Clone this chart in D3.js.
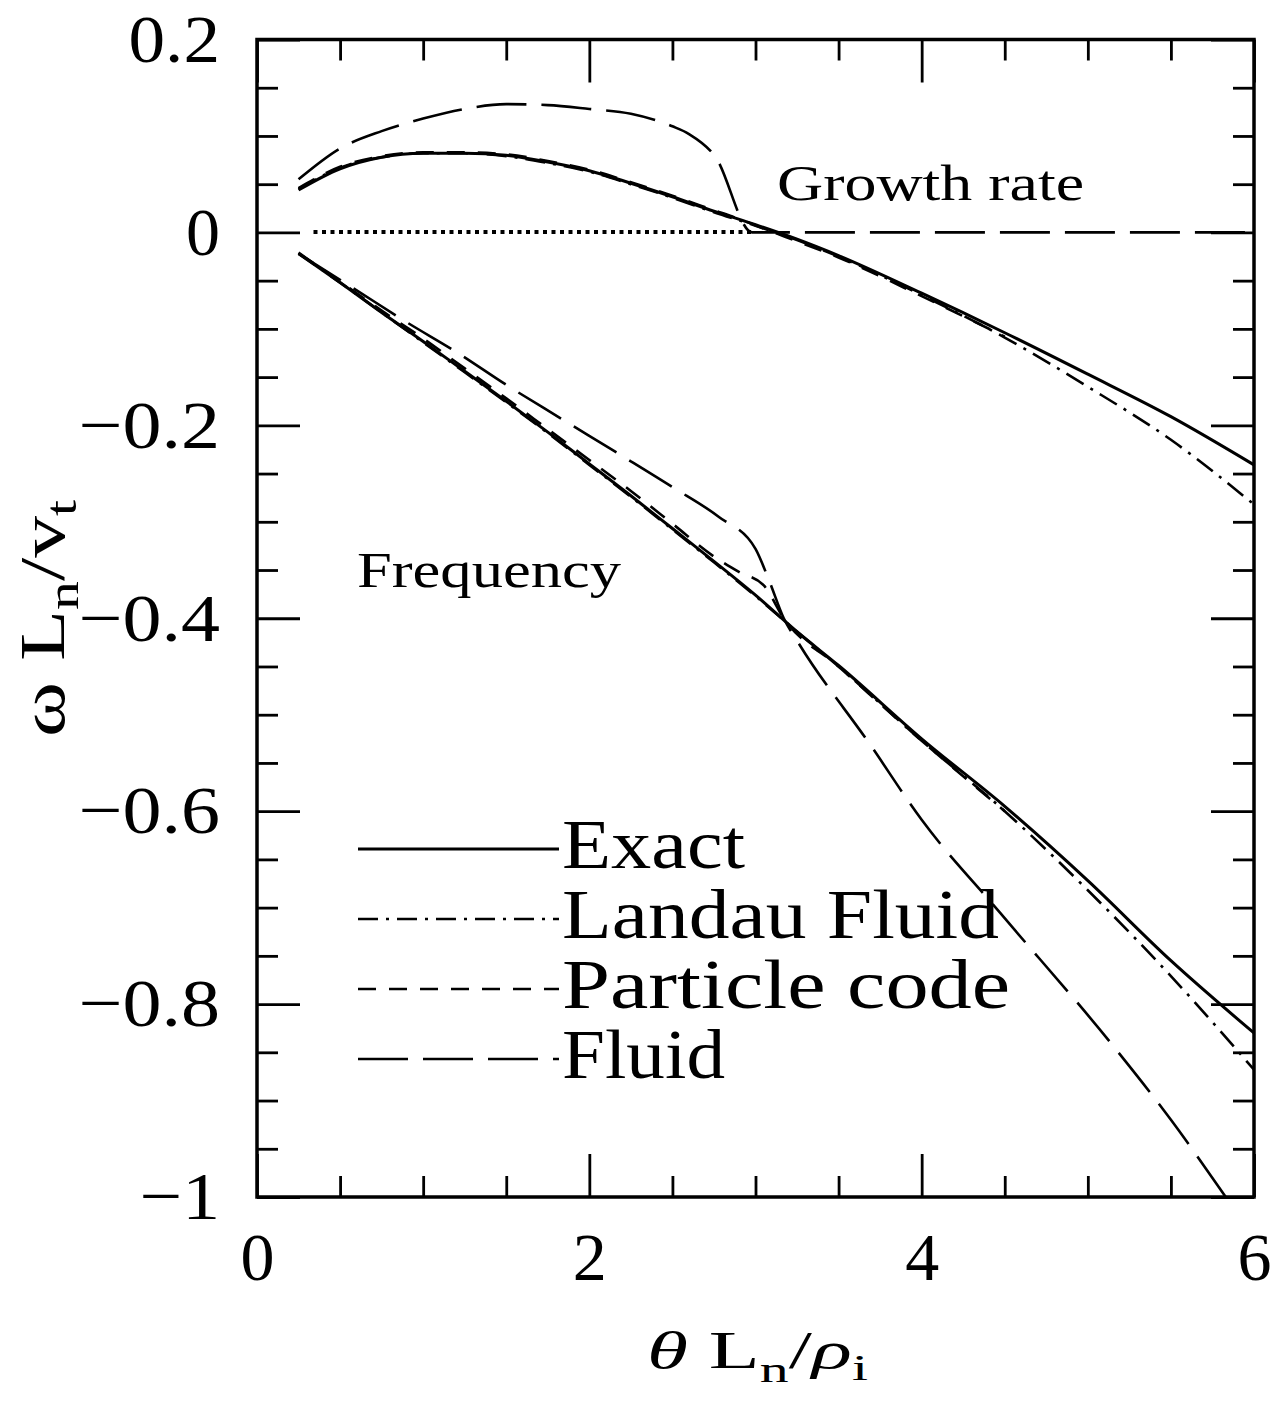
<!DOCTYPE html>
<html>
<head>
<meta charset="utf-8">
<script src="https://cdn.jsdelivr.net/npm/d3@7"></script>
<style>
  body { margin: 0; background: #fff; }
  text { font-family: "Liberation Serif", "Times New Roman", serif; fill: #000; }
</style>
</head>
<body>
<svg id="chart" width="1276" height="1410"></svg>
<script>
// ---- data -------------------------------------------------------------
const xMajorTicks = [0, 2, 4, 6];
const yMajorTicks = [0.2, 0, -0.2, -0.4, -0.6, -0.8, -1];
const yTickLabels = ["0.2", "0", "\u22120.2", "\u22120.4", "\u22120.6", "\u22120.8", "\u22121"];

// Exact dispersion relation
const exactX      = [0.25, 0.5, 0.75, 1.0, 1.25, 1.5, 1.75, 2.0, 2.25, 2.5, 2.75, 3.0, 3.25, 3.5, 4.0, 4.5, 5.0, 5.5, 6.0];
const exactGrowth = [0.044, 0.066, 0.078, 0.082, 0.082, 0.080, 0.073, 0.064, 0.051, 0.037, 0.022, 0.008, -0.007, -0.024, -0.063, -0.104, -0.147, -0.191, -0.241];
const exactFreq   = [-0.022, -0.052, -0.083, -0.113, -0.144, -0.175, -0.207, -0.240, -0.273, -0.307, -0.341, -0.376, -0.414, -0.449, -0.525, -0.595, -0.672, -0.755, -0.830];

// Landau fluid closure
const landauX      = [0.25, 0.5, 0.75, 1.0, 1.25, 1.5, 1.75, 2.0, 2.25, 2.5, 2.75, 3.0, 3.25, 3.5, 4.0, 4.5, 5.0, 5.5, 6.0];
const landauGrowth = [0.045, 0.067, 0.078, 0.082, 0.082, 0.079, 0.072, 0.063, 0.050, 0.036, 0.021, 0.007, -0.008, -0.025, -0.065, -0.109, -0.160, -0.215, -0.282];
const landauFreq   = [-0.022, -0.052, -0.083, -0.114, -0.145, -0.176, -0.208, -0.241, -0.274, -0.308, -0.342, -0.377, -0.414, -0.450, -0.527, -0.600, -0.682, -0.771, -0.868];

// Particle simulation
const particleX      = [0.25, 0.5, 0.75, 1.0, 1.25, 1.5, 1.75, 2.0, 2.25, 2.5, 2.75, 2.9, 3.05, 3.17, 3.5, 4.0, 4.5];
const particleGrowth = [0.046, 0.068, 0.079, 0.083, 0.083, 0.081, 0.074, 0.065, 0.052, 0.038, 0.023, 0.014, 0.004, -0.004, -0.026, -0.066, -0.108];
const particleFreq   = [-0.021, -0.051, -0.081, -0.110, -0.141, -0.172, -0.204, -0.236, -0.268, -0.302, -0.336, -0.352, -0.366, -0.400, -0.450, -0.527, -0.600];

// Plain fluid model
const fluidGrowthX = [0.25, 0.5, 0.75, 1.0, 1.25, 1.5, 1.75, 2.0, 2.25, 2.5, 2.6, 2.76, 2.98, 3.5, 4.0, 4.5, 5.0, 5.5, 6.0];
const fluidGrowth  = [0.055, 0.087, 0.105, 0.118, 0.128, 0.133, 0.132, 0.128, 0.123, 0.110, 0.102, 0.078, 0.0, 0, 0, 0, 0, 0, 0];
const fluidFreqX   = [0.25, 0.6, 0.9, 1.2, 1.5, 1.83, 2.2, 2.5, 2.78, 3.0, 3.08, 3.17, 3.26, 3.69, 4.0, 4.47, 5.16, 5.5, 5.83];
const fluidFreq    = [-0.022, -0.060, -0.093, -0.124, -0.158, -0.193, -0.232, -0.264, -0.295, -0.328, -0.360, -0.400, -0.426, -0.531, -0.609, -0.705, -0.845, -0.920, -1.0];

// zero reference (dotted)
const zeroX = [0.34, 3.0];
const zeroY = [0, 0];

const legendLabels = ["Exact", "Landau Fluid", "Particle code", "Fluid"];

// ---- layout -----------------------------------------------------------
const svg = d3.select("#chart");
const x = d3.scaleLinear().domain([0, 6]).range([257, 1254]);
const y = d3.scaleLinear().domain([0.2, -1]).range([39.5, 1197]);

const styles = {
  exact:    { dash: null,          width: 3 },
  landau:   { dash: "20,8,3,8",    width: 2.6 },
  particle: { dash: "18,13",       width: 2.6 },
  fluid:    { dash: "50,15",       width: 2.6 }
};

// ---- axes (ticks point inward on all four sides) -----------------------
const xMinor = d3.range(0, 13).map(i => i * 0.5).filter(v => v % 2 !== 0);
const yMinor = d3.range(-20, 5).map(i => +(i * 0.05).toFixed(2)).filter(v => Math.abs(Math.round(v / 0.2) * 0.2 - v) > 1e-6);

function styleAxis(g) {
  g.select(".domain").remove();
  g.selectAll(".tick line").attr("stroke", "#000").attr("stroke-width", 2.8);
}

svg.append("g").attr("transform", "translate(0,1197)")
  .call(d3.axisBottom(x).tickValues(xMinor).tickSize(-21).tickFormat(""))
  .call(styleAxis);
svg.append("g").attr("transform", "translate(0,39.5)")
  .call(d3.axisTop(x).tickValues(xMinor).tickSize(-21).tickFormat(""))
  .call(styleAxis);
svg.append("g").attr("transform", "translate(0,39.5)")
  .call(d3.axisTop(x).tickValues(xMajorTicks).tickSize(-43).tickFormat(""))
  .call(styleAxis);
svg.append("g").attr("transform", "translate(257,0)")
  .call(d3.axisLeft(y).tickValues(yMinor).tickSize(-21).tickFormat(""))
  .call(styleAxis);
svg.append("g").attr("transform", "translate(1254,0)")
  .call(d3.axisRight(y).tickValues(yMinor).tickSize(-21).tickFormat(""))
  .call(styleAxis);
svg.append("g").attr("transform", "translate(1254,0)")
  .call(d3.axisRight(y).tickValues(yMajorTicks).tickSize(-43).tickFormat(""))
  .call(styleAxis);

const bottomMajor = svg.append("g").attr("transform", "translate(0,1197)")
  .call(d3.axisBottom(x).tickValues(xMajorTicks).tickSize(-43).tickPadding(35).tickFormat(d3.format("d")))
  .call(styleAxis);
bottomMajor.selectAll("text").attr("font-size", 68).attr("font-family", "Liberation Serif").attr("fill", "#000");

const leftMajor = svg.append("g").attr("transform", "translate(257,0)")
  .call(d3.axisLeft(y).tickValues(yMajorTicks).tickSize(-43).tickPadding(37)
        .tickFormat((d, i) => yTickLabels[i]))
  .call(styleAxis);
leftMajor.selectAll("text")
  .attr("font-size", 68).attr("font-family", "Liberation Serif").attr("fill", "#000")
  .each(function (d, i) {
    const s = yTickLabels[i];
    let w = 0;
    for (const ch of s) w += ch === "\u2212" ? 50 : 30.5;
    if (s.length > 1) d3.select(this).attr("textLength", w).attr("lengthAdjust", "spacingAndGlyphs");
  });

// frame
svg.append("rect")
  .attr("x", x(0)).attr("y", y(0.2))
  .attr("width", x(6) - x(0)).attr("height", y(-1) - y(0.2))
  .attr("fill", "none").attr("stroke", "#000").attr("stroke-width", 3.5);

// ---- curves -----------------------------------------------------------
const plot = svg.append("g");
function drawSeries(xs, ys, st) {
  const line = d3.line().x(d => x(d[0])).y(d => y(d[1])).curve(d3.curveMonotoneX);
  plot.append("path")
    .datum(xs.map((v, i) => [v, ys[i]]))
    .attr("d", line)
    .attr("fill", "none")
    .attr("stroke", "#000")
    .attr("stroke-width", st.width)
    .attr("stroke-dasharray", st.dash)
    .attr("stroke-linejoin", "round");
}

// dotted zero line
plot.append("path")
  .datum(zeroX.map((v, i) => [v, zeroY[i]]))
  .attr("d", d3.line().x(d => x(d[0])).y(d => Math.round(y(d[1]))))
  .attr("fill", "none").attr("stroke", "#000")
  .attr("stroke-width", 4).attr("stroke-dasharray", "4,4.5");

drawSeries(fluidGrowthX, fluidGrowth, styles.fluid);
drawSeries(fluidFreqX, fluidFreq, styles.fluid);
drawSeries(particleX, particleGrowth, styles.particle);
drawSeries(particleX, particleFreq, styles.particle);
drawSeries(landauX, landauGrowth, styles.landau);
drawSeries(landauX, landauFreq, styles.landau);
drawSeries(exactX, exactGrowth, styles.exact);
drawSeries(exactX, exactFreq, styles.exact);

// ---- annotations ------------------------------------------------------
svg.append("text").attr("x", 777).attr("y", 200).attr("font-size", 50)
  .attr("textLength", 307).attr("lengthAdjust", "spacingAndGlyphs").text("Growth rate");
svg.append("text").attr("x", 357).attr("y", 587).attr("font-size", 50)
  .attr("textLength", 264).attr("lengthAdjust", "spacingAndGlyphs").text("Frequency");

// ---- legend -----------------------------------------------------------
const legendStyles = [styles.exact, styles.landau, styles.particle, styles.fluid];
const legendWidths = [183, 437, 448, 163];
legendLabels.forEach((lab, i) => {
  const base = 868 + i * 70;
  svg.append("line")
    .attr("x1", 358).attr("x2", 559).attr("y1", base - 19).attr("y2", base - 19)
    .attr("stroke", "#000").attr("stroke-width", legendStyles[i].width)
    .attr("stroke-dasharray", legendStyles[i].dash);
  svg.append("text").attr("x", 562).attr("y", base).attr("font-size", 69)
    .attr("textLength", legendWidths[i]).attr("lengthAdjust", "spacingAndGlyphs").text(lab);
});

// ---- axis titles ------------------------------------------------------
const xt = svg.append("text").attr("x", 757.5).attr("y", 1368).attr("font-size", 52)
  .attr("text-anchor", "middle").attr("textLength", 221).attr("lengthAdjust", "spacingAndGlyphs");
xt.append("tspan").attr("font-style", "italic").text("\u03B8");
xt.append("tspan").text(" L");
xt.append("tspan").attr("font-size", 36).attr("dy", 14).text("n");
xt.append("tspan").attr("dy", -14).text("/");
xt.append("tspan").attr("font-style", "italic").text("\u03C1");
xt.append("tspan").attr("font-size", 36).attr("dy", 12).text("i");

const yt = svg.append("text").attr("transform", "translate(64,618.5) rotate(-90)")
  .attr("font-size", 64).attr("text-anchor", "middle")
  .attr("textLength", 237).attr("lengthAdjust", "spacingAndGlyphs");
yt.append("tspan").text("\u03C9");
yt.append("tspan").text(" L");
yt.append("tspan").attr("font-size", 44).attr("dy", 14).text("n");
yt.append("tspan").attr("dy", -14).text("/");
yt.append("tspan").text("v");
yt.append("tspan").attr("font-size", 44).attr("dy", 12).text("t");
</script>
</body>
</html>
